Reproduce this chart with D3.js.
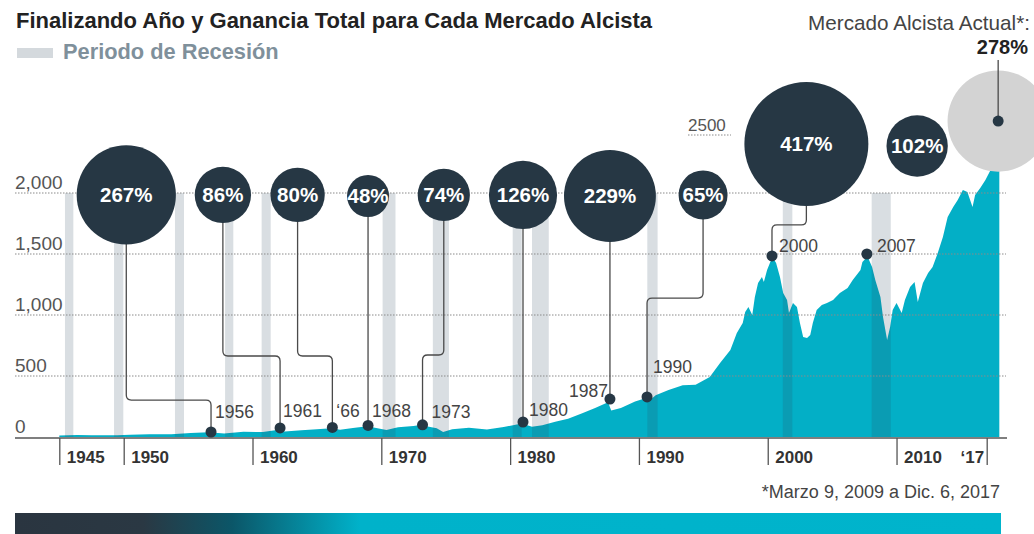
<!DOCTYPE html>
<html>
<head>
<meta charset="utf-8">
<script src="https://cdn.jsdelivr.net/npm/d3@7/dist/d3.min.js"></script>
<style>
  body { margin: 0; background: #fff; }
  svg { display: block; font-family: "Liberation Sans", Arial, Helvetica, sans-serif; }
</style>
</head>
<body>
<svg id="chart" width="1034" height="534"></svg>
<script>
// Serie del índice (año decimal, nivel)
const spxYears = [1945.0, 1946.4, 1947.5, 1949.5, 1950.5, 1952.0, 1953.7, 1955.2, 1956.6, 1957.8,
  1959.3, 1960.8, 1961.9, 1962.5, 1963.8, 1965.0, 1966.1, 1966.8, 1967.8, 1968.9,
  1970.4, 1971.3, 1972.5, 1973.0, 1974.3, 1974.8, 1975.5, 1976.8, 1978.2, 1979.5,
  1980.9, 1981.7, 1982.5, 1983.5, 1984.5, 1985.6, 1986.6, 1987.6, 1987.85, 1988.6,
  1989.7, 1990.5, 1990.8, 1991.3, 1992.3, 1993.4, 1994.4, 1995.5, 1996.3, 1997.1,
  1997.6, 1998.06, 1998.25, 1998.5, 1998.8, 1999.0, 1999.25, 1999.55, 1999.7, 1999.95,
  2000.2, 2000.4, 2000.65, 2000.95, 2001.2, 2001.5, 2001.65, 2001.96, 2002.27, 2002.5,
  2002.75, 2003.05, 2003.3, 2003.5, 2003.8, 2004.2, 2004.6, 2005.07, 2005.6, 2006.2,
  2006.6, 2007.2, 2007.35, 2007.75, 2008.1, 2008.35, 2008.75, 2008.95, 2009.27, 2009.5,
  2009.7, 2010.0, 2010.4, 2010.65, 2011.05, 2011.4, 2011.65, 2012.05, 2012.45, 2012.8,
  2013.2, 2013.6, 2013.97, 2014.4, 2014.75, 2015.15, 2015.5, 2015.9, 2016.1, 2016.5,
  2016.9, 2017.3, 2017.6, 2017.98];
const spxValues = [12, 16, 14, 14, 18, 22, 22, 32, 38, 28,
  44, 40, 58, 46, 56, 64, 72, 60, 74, 88,
  58, 80, 90, 98, 72, 42, 64, 76, 62, 82,
  110, 84, 96, 125, 150, 195, 238, 285, 218, 238,
  290, 318, 298, 342, 385, 425, 428, 492, 607, 713,
  852, 934, 1025, 1066, 1000, 1148, 1262, 1311, 1270, 1369,
  1434, 1470, 1426, 1311, 1180, 1123, 1016, 1098, 1066, 934,
  820, 811, 836, 934, 1041, 1082, 1098, 1123, 1180, 1221,
  1287, 1369, 1434, 1480, 1393, 1287, 1148, 984, 795, 902,
  1041, 1098, 1016, 1123, 1230, 1270, 1107, 1262, 1344, 1393,
  1508, 1639, 1803, 1885, 1943, 2025, 2008, 1885, 1984, 2041,
  2107, 2189, 2400, 2590];

// Periodos de recesión (inicio, fin)
const recessionStart = [1945.44, 1949.25, 1953.98, 1957.87, 1960.71, 1970.1, 1974.0, 1980.2, 1981.7, 1990.65, 2001.17, 2008.07];
const recessionEnd   = [1946.09, 1949.97, 1954.68, 1958.51, 1961.41, 1971.1, 1975.25, 1980.9, 1983.0, 1991.45, 2001.91, 2009.55];

// Mercados alcistas: ganancia total y año en que terminan
const bullGains     = [267, 86, 80, 48, 74, 126, 229, 65, 417, 102, 278];
const bullEndLabels = ["1956", "1961", "\u201866", "1968", "1973", "1980", "1987", "1990", "2000", "2007", ""];
const bullEndYears  = [1956.78, 1962.14, 1966.2, 1968.97, 1973.2, 1981.0, 1987.75, 1990.63, 2000.33, 2007.7, 2017.89];
const bullEndValues = [41, 74, 78, 95, 100, 123, 311, 328, 1484, 1500, 2590];

const yTicks = [0, 500, 1000, 1500, 2000];
const xTicks = [1945, 1950, 1960, 1970, 1980, 1990, 2000, 2010, 2017];
const xTickLabels = ["1945", "1950", "1960", "1970", "1980", "1990", "2000", "2010", "\u201817"];

// Ubicación de las burbujas (en unidades del gráfico) y del codo de cada conector
const bubbleLayout = [
  {year: 1950.2, value: 1984, elbow: 303},
  {year: 1957.7, value: 1984, elbow: 664},
  {year: 1963.5, value: 1984, elbow: 664},
  {year: 1968.97, value: 1975, elbow: null},
  {year: 1974.85, value: 1984, elbow: 672},
  {year: 1981.0, value: 1984, elbow: null},
  {year: 1987.75, value: 1975, elbow: null},
  {year: 1994.98, value: 1984, elbow: 1139},
  {year: 2003.0, value: 2402, elbow: 1738},
  {year: 2011.6, value: 2385, elbow: "none"},
  {year: 2017.89, value: 2590, elbow: "none"}
];
// Desplazamiento de las etiquetas de año respecto al punto
const labelNudge = [[4, -14], [3, -11], [4, -10], [4, -8], [9, -7], [6, -6], [-2, -2], [6, -24], [7, -4], [10, -2], [0, 0]];

const navy = "#263744";
const teal = "#03afc6";

const svg = d3.select("#chart");
const x = d3.scaleLinear().domain([1945, 2017]).range([59.3, 986.7]);
const y = d3.scaleLinear().domain([0, 2000]).range([437, 193]);
const r = d3.scaleSqrt().domain([0, 417]).range([0, 62]);

svg.append("rect").attr("width", 1034).attr("height", 534).attr("fill", "#fff");

// Título y leyenda
svg.append("text")
    .attr("x", 16).attr("y", 28)
    .attr("font-size", 22).attr("font-weight", "bold").attr("fill", "#222")
    .text("Finalizando Año y Ganancia Total para Cada Mercado Alcista");

svg.append("rect")
    .attr("x", 17).attr("y", 48).attr("width", 36).attr("height", 10)
    .attr("fill", "#d4d9dd");
svg.append("text")
    .attr("x", 63).attr("y", 59)
    .attr("font-size", 21.8).attr("font-weight", "bold").attr("fill", "#7f909b")
    .text("Periodo de Recesión");

// Área del índice
const series = spxYears.map((yr, i) => [yr, spxValues[i]]);
svg.append("path")
    .datum(series)
    .attr("fill", teal)
    .attr("d", d3.area().x(d => x(d[0])).y0(y(0)).y1(d => y(d[1])));

// Barras de recesión (semitransparentes, oscurecen el área)
svg.append("g").selectAll("rect")
    .data(recessionStart)
    .join("rect")
    .attr("x", (d, i) => x(d))
    .attr("width", (d, i) => x(recessionEnd[i]) - x(d))
    .attr("y", y(2000))
    .attr("height", y(0) - y(2000))
    .attr("fill", "#2a4a60")
    .attr("fill-opacity", 0.18);

// Líneas de cuadrícula y etiquetas del eje Y
const grid = svg.append("g");
grid.selectAll("line")
    .data(yTicks.filter(d => d > 0))
    .join("line")
    .attr("x1", 15).attr("x2", 1006)
    .attr("y1", d => y(d)).attr("y2", d => y(d))
    .attr("stroke", "#8a8a8a").attr("stroke-width", 1)
    .attr("stroke-dasharray", "1.5,1.5");
grid.selectAll("text")
    .data(yTicks)
    .join("text")
    .attr("x", 15)
    .attr("y", d => y(d) - 4)
    .attr("font-size", 19).attr("fill", "#555")
    .text(d => d3.format(",")(d));

// Marca suelta de 2500
svg.append("line")
    .attr("x1", 688).attr("x2", 731)
    .attr("y1", y(2500) + 3).attr("y2", y(2500) + 3)
    .attr("stroke", "#8a8a8a").attr("stroke-dasharray", "1.5,1.5");
svg.append("text")
    .attr("x", 688).attr("y", y(2500) - 1)
    .attr("font-size", 17).attr("fill", "#555")
    .text("2500");

// Eje X
const xAxis = svg.append("g")
    .attr("transform", `translate(0,${y(0) + 1})`)
    .call(d3.axisBottom(x)
        .tickValues(xTicks)
        .tickFormat((d, i) => xTickLabels[i])
        .tickSize(27));
xAxis.select(".domain").remove();
xAxis.selectAll(".tick line").attr("stroke", "#555").attr("stroke-width", 1.3);
xAxis.selectAll(".tick text")
    .attr("font-family", "Liberation Sans, Arial, sans-serif")
    .attr("font-size", 17).attr("font-weight", "bold").attr("fill", "#333")
    .attr("dy", null)
    .attr("y", 25)
    .attr("x", (d, i) => i === xTicks.length - 1 ? -3 : 7)
    .attr("text-anchor", (d, i) => i === xTicks.length - 1 ? "end" : "start");
svg.append("line")
    .attr("x1", 15).attr("x2", 1007)
    .attr("y1", y(0) + 1).attr("y2", y(0) + 1)
    .attr("stroke", "#555").attr("stroke-width", 1.5);

// Burbuja del mercado actual (gris)
const last = bullGains.length - 1;
svg.append("circle")
    .attr("cx", x(bubbleLayout[last].year))
    .attr("cy", y(bubbleLayout[last].value))
    .attr("r", r(bullGains[last]))
    .attr("fill", "#d3d3d3");
svg.append("line")
    .attr("x1", x(bullEndYears[last])).attr("x2", x(bullEndYears[last]))
    .attr("y1", 60).attr("y2", y(bullEndValues[last]))
    .attr("stroke", "#4a4a4a").attr("stroke-width", 1.3);

// Conectores entre burbujas y puntos finales
function connector(i) {
    const L = bubbleLayout[i];
    const bx = x(L.year), by = y(L.value);
    const dx = x(bullEndYears[i]), dy = y(bullEndValues[i]);
    if (L.elbow === null || Math.abs(dx - bx) < 10) return `M${bx},${by}L${dx},${dy}`;
    const ey = y(L.elbow), s = Math.sign(dx - bx), rad = 5;
    return `M${bx},${by}V${ey - rad}Q${bx},${ey} ${bx + s * rad},${ey}` +
           `H${dx - s * rad}Q${dx},${ey} ${dx},${ey + rad}V${dy}`;
}
svg.append("g").selectAll("path")
    .data(d3.range(last).filter(i => bubbleLayout[i].elbow !== "none"))
    .join("path")
    .attr("d", connector)
    .attr("fill", "none")
    .attr("stroke", "#4a4a4a")
    .attr("stroke-width", 1.3);

// Burbujas con la ganancia
const bubbles = svg.append("g").selectAll("g")
    .data(d3.range(last))
    .join("g")
    .attr("transform", i => `translate(${x(bubbleLayout[i].year)},${y(bubbleLayout[i].value)})`);
bubbles.append("circle")
    .attr("r", i => r(bullGains[i]))
    .attr("fill", navy);
bubbles.append("text")
    .attr("text-anchor", "middle")
    .attr("dy", "0.36em")
    .attr("font-size", 20.5).attr("font-weight", "bold").attr("fill", "#fff")
    .text(i => bullGains[i] + "%");

// Puntos finales y etiquetas de año
svg.append("g").selectAll("circle")
    .data(d3.range(bullGains.length))
    .join("circle")
    .attr("cx", i => x(bullEndYears[i]))
    .attr("cy", i => y(bullEndValues[i]))
    .attr("r", 5.5)
    .attr("fill", navy);
svg.append("g").selectAll("text")
    .data(d3.range(last))
    .join("text")
    .attr("x", i => x(bullEndYears[i]) + labelNudge[i][0])
    .attr("y", i => y(bullEndValues[i]) + labelNudge[i][1])
    .attr("text-anchor", i => bullEndLabels[i] === "1987" ? "end" : "start")
    .attr("font-size", 17.5).attr("fill", "#444")
    .text(i => bullEndLabels[i]);

// Mercado actual
svg.append("text")
    .attr("x", 1030).attr("y", 30)
    .attr("text-anchor", "end")
    .attr("font-size", 20.7).attr("fill", "#444")
    .text("Mercado Alcista Actual*:");
svg.append("text")
    .attr("x", 1028).attr("y", 54)
    .attr("text-anchor", "end")
    .attr("font-size", 20).attr("font-weight", "bold").attr("fill", "#222")
    .text(bullGains[last] + "%");

// Nota
svg.append("text")
    .attr("x", 1000).attr("y", 498)
    .attr("text-anchor", "end")
    .attr("font-size", 18).attr("fill", "#444")
    .text("*Marzo 9, 2009 a Dic. 6, 2017");

// Barra de degradado inferior
const grad = svg.append("defs").append("linearGradient")
    .attr("id", "barGrad").attr("x1", "0%").attr("x2", "100%");
grad.append("stop").attr("offset", "0%").attr("stop-color", "#2a3540");
grad.append("stop").attr("offset", "13%").attr("stop-color", "#2a3843");
grad.append("stop").attr("offset", "22%").attr("stop-color", "#0b5668");
grad.append("stop").attr("offset", "35%").attr("stop-color", "#00b2ca");
grad.append("stop").attr("offset", "100%").attr("stop-color", "#00b4cc");
svg.append("rect")
    .attr("x", 15).attr("y", 513).attr("width", 986).attr("height", 22)
    .attr("fill", "url(#barGrad)");
</script>
</body>
</html>
